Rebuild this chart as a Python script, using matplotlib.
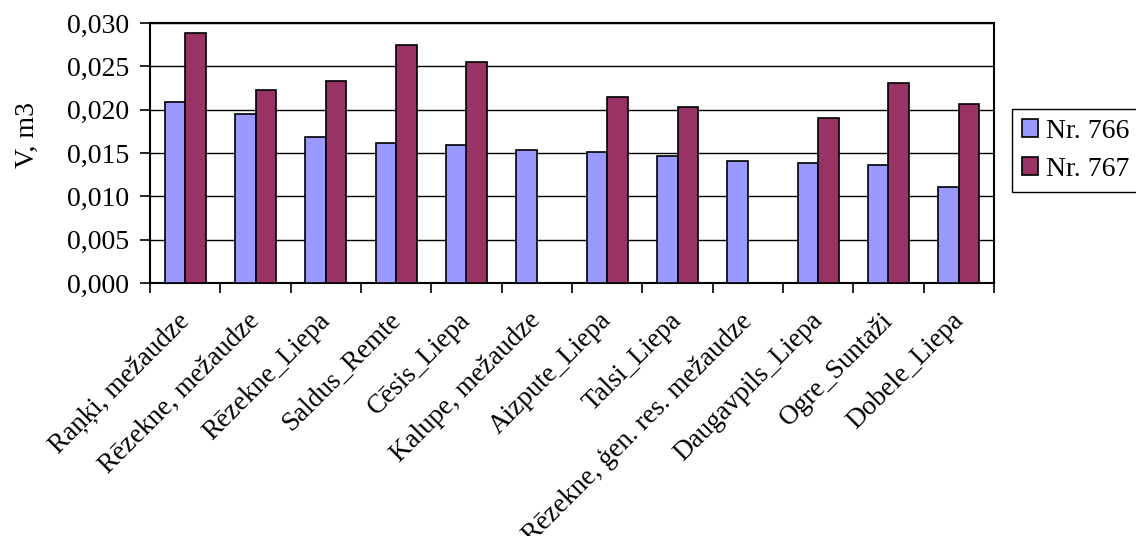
import matplotlib
matplotlib.use("Agg")
import matplotlib.pyplot as plt
import matplotlib.transforms as mtransforms
from matplotlib.ticker import FuncFormatter, MultipleLocator
import numpy as np

# koku tilpums pa paraugu vietām
vietas = [
    "Raņķi, mežaudze",
    "Rēzekne, mežaudze",
    "Rēzekne_Liepa",
    "Saldus_Remte",
    "Cēsis_Liepa",
    "Kalupe, mežaudze",
    "Aizpute_Liepa",
    "Talsi_Liepa",
    "Rēzekne, ģen. res. mežaudze",
    "Daugavpils_Liepa",
    "Ogre_Suntaži",
    "Dobele_Liepa",
]
nr766 = [0.0209, 0.0195, 0.0168, 0.0161, 0.0159, 0.0153,
         0.0151, 0.0147, 0.0141, 0.0139, 0.0136, 0.0111]
nr767 = [0.0288, 0.0223, 0.0233, 0.0275, 0.0255, np.nan,
         0.0215, 0.0203, np.nan, 0.0190, 0.0231, 0.0207]

plt.rcParams.update({
    "font.family": ["Liberation Serif", "DejaVu Serif"],
    "font.size": 20,
})

fig = plt.figure(figsize=(11.36, 5.36), dpi=100)
ax = fig.add_axes([150 / 1136, 1 - 283 / 536, (994 - 150) / 1136, 260 / 536])

x = np.arange(len(vietas))
w = 0.29
ax.bar(x - w / 2, nr766, w, color="#9999FF", edgecolor="black", linewidth=1.2,
       label="Nr. 766", zorder=3)
ax.bar(x + w / 2, nr767, w, color="#993366", edgecolor="black", linewidth=1.2,
       label="Nr. 767", zorder=3)

ax.set_xlim(-0.5, len(vietas) - 0.5)
ax.set_ylim(0, 0.030)
ax.yaxis.set_major_locator(MultipleLocator(0.005))
ax.yaxis.set_major_formatter(FuncFormatter(lambda v, _: f"{v:.3f}".replace(".", ",")))
ax.grid(axis="y", color="black", linewidth=1.0, zorder=0)
ax.set_axisbelow(True)

# ticks between categories, labels at category centres
ax.set_xticks(np.arange(len(vietas) + 1) - 0.5)
ax.set_xticklabels([])
ax.set_xticks(x, minor=True)
ax.set_xticklabels(vietas, minor=True, rotation=45, ha="right",
                   rotation_mode="anchor", fontsize=19.5)
ax.tick_params(axis="x", which="minor", length=0, pad=12)
ax.tick_params(axis="x", which="major", length=7, width=1.2, direction="out")
ax.tick_params(axis="y", length=7, width=1.2, direction="out", pad=8)

# shift the slanted labels back along their direction
shift = mtransforms.ScaledTranslation(-6 / 72, -6 / 72, fig.dpi_scale_trans)
for lbl in ax.get_xticklabels(minor=True):
    lbl.set_transform(lbl.get_transform() + shift)

for s in ax.spines.values():
    s.set_linewidth(1.5)

ax.set_ylabel("V, m3")
ax.yaxis.set_label_coords(-0.131, 0.57)

ax.legend(loc="center left", bbox_to_anchor=(1.021, 0.51), frameon=True,
          fancybox=False, edgecolor="black", framealpha=1,
          handlelength=0.58, handleheight=0.6, handletextpad=0.3,
          borderpad=0.36, labelspacing=0.47, borderaxespad=0)

fig.savefig("out.png", dpi=100)
